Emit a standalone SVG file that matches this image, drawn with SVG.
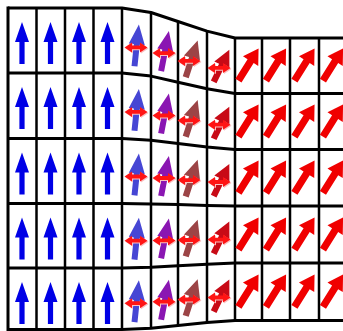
<svg xmlns="http://www.w3.org/2000/svg" width="343" height="331" viewBox="0 0 343 331">
<style>
.grid{fill:none;stroke:#000;stroke-width:3;stroke-linejoin:round}
.vl{stroke:#000;stroke-width:2.5}
.blue{fill:#0000e6}
.red{fill:#f00000}
.c0{fill:#4646d4}
.c1{fill:#8a16b2}
.c2{fill:#9c4446}
.c3{fill:#c80a16}
.dbl{fill:#ff1414}
.dsh{fill:#f9c0c0}
</style>
<defs>
<path id="up" d="M0,-21 L7,-1 L2.6,-1 L2.6,21 L-2.6,21 L-2.6,-1 L-7,-1 Z"/>
<path id="diag" d="M0,-19 L9,-4 L3.6,-4 L3.6,19 L-3.6,19 L-3.6,-4 L-9,-4 Z"/>
<path id="dbl" d="M-11.5,0 L-4,-5 L-4,-1.9 L4,-1.9 L4,-5 L11.5,0 L4,5 L4,1.9 L-4,1.9 L-4,5 Z"/>
</defs>
<rect width="343" height="331" fill="#fff"/>

<g id="grid">
<polyline class="grid" points="8,8 122,8 151,12.5 178,21.5 207,31.1 235,38 343,38"/>
<polyline class="grid" points="8,73 122,73 151,76.1 178,82.2 207,88.8 235,93.5 343,93.5"/>
<polyline class="grid" points="8,138.5 122,138.5 151,140.2 178,143.5 207,147 235,149.5 343,149.5"/>
<polyline class="grid" points="8,203.5 122,203.5 151,203.9 178,204.6 207,205.4 235,206 343,206"/>
<polyline class="grid" points="8,268 122,268 151,267.3 178,265.8 207,264.2 235,263 343,263"/>
<polyline class="grid" points="8,329.5 122,329.5 151,328.2 178,325.5 207,322.6 235,320.5 343,320.5"/>
<line class="vl" x1="8" y1="6.5" x2="8" y2="331" style="stroke-width:3"/>
<line class="vl" x1="36.5" y1="8" x2="36.5" y2="329.5"/>
<line class="vl" x1="65" y1="8" x2="65" y2="329.5"/>
<line class="vl" x1="93.5" y1="8" x2="93.5" y2="329.5"/>
<line class="vl" x1="122" y1="8" x2="122" y2="329.5"/>
<line class="vl" x1="151" y1="12.5" x2="151" y2="328.2"/>
<line class="vl" x1="178" y1="21.5" x2="178" y2="325.5"/>
<line class="vl" x1="207" y1="31.1" x2="207" y2="322.6"/>
<line class="vl" x1="235" y1="38" x2="235" y2="320.5"/>
<line class="vl" x1="262" y1="38" x2="262" y2="320.5"/>
<line class="vl" x1="290" y1="38" x2="290" y2="320.5"/>
<line class="vl" x1="319" y1="38" x2="319" y2="320.5"/>
</g>

<g id="left-block">
<use href="#up" class="blue" x="22" y="43"/><use href="#up" class="blue" x="50.5" y="43"/><use href="#up" class="blue" x="79" y="43"/><use href="#up" class="blue" x="107.5" y="43"/>
<use href="#up" class="blue" x="22" y="108"/><use href="#up" class="blue" x="50.5" y="108"/><use href="#up" class="blue" x="79" y="108"/><use href="#up" class="blue" x="107.5" y="108"/>
<use href="#up" class="blue" x="22" y="173.5"/><use href="#up" class="blue" x="50.5" y="173.5"/><use href="#up" class="blue" x="79" y="173.5"/><use href="#up" class="blue" x="107.5" y="173.5"/>
<use href="#up" class="blue" x="22" y="238.5"/><use href="#up" class="blue" x="50.5" y="238.5"/><use href="#up" class="blue" x="79" y="238.5"/><use href="#up" class="blue" x="107.5" y="238.5"/>
<use href="#up" class="blue" x="22" y="303"/><use href="#up" class="blue" x="50.5" y="303"/><use href="#up" class="blue" x="79" y="303"/><use href="#up" class="blue" x="107.5" y="303"/>
</g>

<g id="middle-block">
<use href="#up" class="c0" transform="translate(136.7,45.4) rotate(6) scale(1.15,1)"/>
<use href="#up" class="c1" transform="translate(165,51.1) rotate(11) scale(1.15,0.97)"/>
<use href="#up" class="c2" transform="translate(191.7,58.9) rotate(18) scale(1.2,0.92)"/>
<use href="#up" class="c3" transform="translate(221.5,65.9) rotate(26) scale(1.2,0.85)"/>
<use href="#up" class="c0" transform="translate(136.7,109.9) rotate(6) scale(1.15,1)"/>
<use href="#up" class="c1" transform="translate(165,113.5) rotate(11) scale(1.15,0.97)"/>
<use href="#up" class="c2" transform="translate(191.7,118.4) rotate(18) scale(1.2,0.92)"/>
<use href="#up" class="c3" transform="translate(221.5,122.7) rotate(26) scale(1.2,0.85)"/>
<use href="#up" class="c0" transform="translate(136.7,174.5) rotate(6) scale(1.15,1)"/>
<use href="#up" class="c1" transform="translate(165,176) rotate(11) scale(1.15,0.97)"/>
<use href="#up" class="c2" transform="translate(191.7,178.1) rotate(18) scale(1.2,0.92)"/>
<use href="#up" class="c3" transform="translate(221.5,180) rotate(26) scale(1.2,0.85)"/>
<use href="#up" class="c0" transform="translate(136.7,238.7) rotate(6) scale(1.15,1)"/>
<use href="#up" class="c1" transform="translate(165,238.4) rotate(11) scale(1.15,0.97)"/>
<use href="#up" class="c2" transform="translate(191.7,238) rotate(18) scale(1.2,0.92)"/>
<use href="#up" class="c3" transform="translate(221.5,237.6) rotate(26) scale(1.2,0.85)"/>
<use href="#up" class="c0" transform="translate(136.7,301.2) rotate(6) scale(1.15,1)"/>
<use href="#up" class="c1" transform="translate(165,299.7) rotate(11) scale(1.15,0.97)"/>
<use href="#up" class="c2" transform="translate(191.7,297.5) rotate(18) scale(1.2,0.92)"/>
<use href="#up" class="c3" transform="translate(221.5,295.5) rotate(26) scale(1.2,0.85)"/>

<use href="#dbl" class="dsh" x="137" y="48.4"/><use href="#dbl" class="dbl" x="136" y="47.4"/>
<use href="#dbl" class="dsh" x="165" y="54.1"/><use href="#dbl" class="dbl" x="164" y="53.1"/>
<use href="#dbl" class="dsh" x="190" y="61.9"/><use href="#dbl" class="dbl" x="189" y="60.9"/>
<use href="#dbl" class="dsh" x="220" y="68.9"/><use href="#dbl" class="dbl" x="219" y="67.9"/>
<use href="#dbl" class="dsh" x="137" y="112.9"/><use href="#dbl" class="dbl" x="136" y="111.9"/>
<use href="#dbl" class="dsh" x="165" y="116.5"/><use href="#dbl" class="dbl" x="164" y="115.5"/>
<use href="#dbl" class="dsh" x="190" y="121.4"/><use href="#dbl" class="dbl" x="189" y="120.4"/>
<use href="#dbl" class="dsh" x="220" y="125.7"/><use href="#dbl" class="dbl" x="219" y="124.7"/>
<use href="#dbl" class="dsh" x="137" y="177.5"/><use href="#dbl" class="dbl" x="136" y="176.5"/>
<use href="#dbl" class="dsh" x="165" y="179"/><use href="#dbl" class="dbl" x="164" y="178"/>
<use href="#dbl" class="dsh" x="190" y="181.1"/><use href="#dbl" class="dbl" x="189" y="180.1"/>
<use href="#dbl" class="dsh" x="220" y="183"/><use href="#dbl" class="dbl" x="219" y="182"/>
<use href="#dbl" class="dsh" x="137" y="241.7"/><use href="#dbl" class="dbl" x="136" y="240.7"/>
<use href="#dbl" class="dsh" x="165" y="241.4"/><use href="#dbl" class="dbl" x="164" y="240.4"/>
<use href="#dbl" class="dsh" x="190" y="241"/><use href="#dbl" class="dbl" x="189" y="240"/>
<use href="#dbl" class="dsh" x="220" y="240.6"/><use href="#dbl" class="dbl" x="219" y="239.6"/>
<use href="#dbl" class="dsh" x="137" y="304.2"/><use href="#dbl" class="dbl" x="136" y="303.2"/>
<use href="#dbl" class="dsh" x="165" y="302.7"/><use href="#dbl" class="dbl" x="164" y="301.7"/>
<use href="#dbl" class="dsh" x="190" y="300.5"/><use href="#dbl" class="dbl" x="189" y="299.5"/>
<use href="#dbl" class="dsh" x="220" y="298.5"/><use href="#dbl" class="dbl" x="219" y="297.5"/>
</g>

<g id="right-block">
<use href="#diag" class="red" transform="translate(248.5,64.5) rotate(32)"/><use href="#diag" class="red" transform="translate(276,64.5) rotate(32)"/><use href="#diag" class="red" transform="translate(304.5,64.5) rotate(32)"/><use href="#diag" class="red" transform="translate(333,64.5) rotate(32)"/>
<use href="#diag" class="red" transform="translate(248.5,120.5) rotate(32)"/><use href="#diag" class="red" transform="translate(276,120.5) rotate(32)"/><use href="#diag" class="red" transform="translate(304.5,120.5) rotate(32)"/><use href="#diag" class="red" transform="translate(333,120.5) rotate(32)"/>
<use href="#diag" class="red" transform="translate(248.5,176.7) rotate(32)"/><use href="#diag" class="red" transform="translate(276,176.7) rotate(32)"/><use href="#diag" class="red" transform="translate(304.5,176.7) rotate(32)"/><use href="#diag" class="red" transform="translate(333,176.7) rotate(32)"/>
<use href="#diag" class="red" transform="translate(248.5,233.5) rotate(32)"/><use href="#diag" class="red" transform="translate(276,233.5) rotate(32)"/><use href="#diag" class="red" transform="translate(304.5,233.5) rotate(32)"/><use href="#diag" class="red" transform="translate(333,233.5) rotate(32)"/>
<use href="#diag" class="red" transform="translate(248.5,290.7) rotate(32)"/><use href="#diag" class="red" transform="translate(276,290.7) rotate(32)"/><use href="#diag" class="red" transform="translate(304.5,290.7) rotate(32)"/><use href="#diag" class="red" transform="translate(333,290.7) rotate(32)"/>
</g>
</svg>
